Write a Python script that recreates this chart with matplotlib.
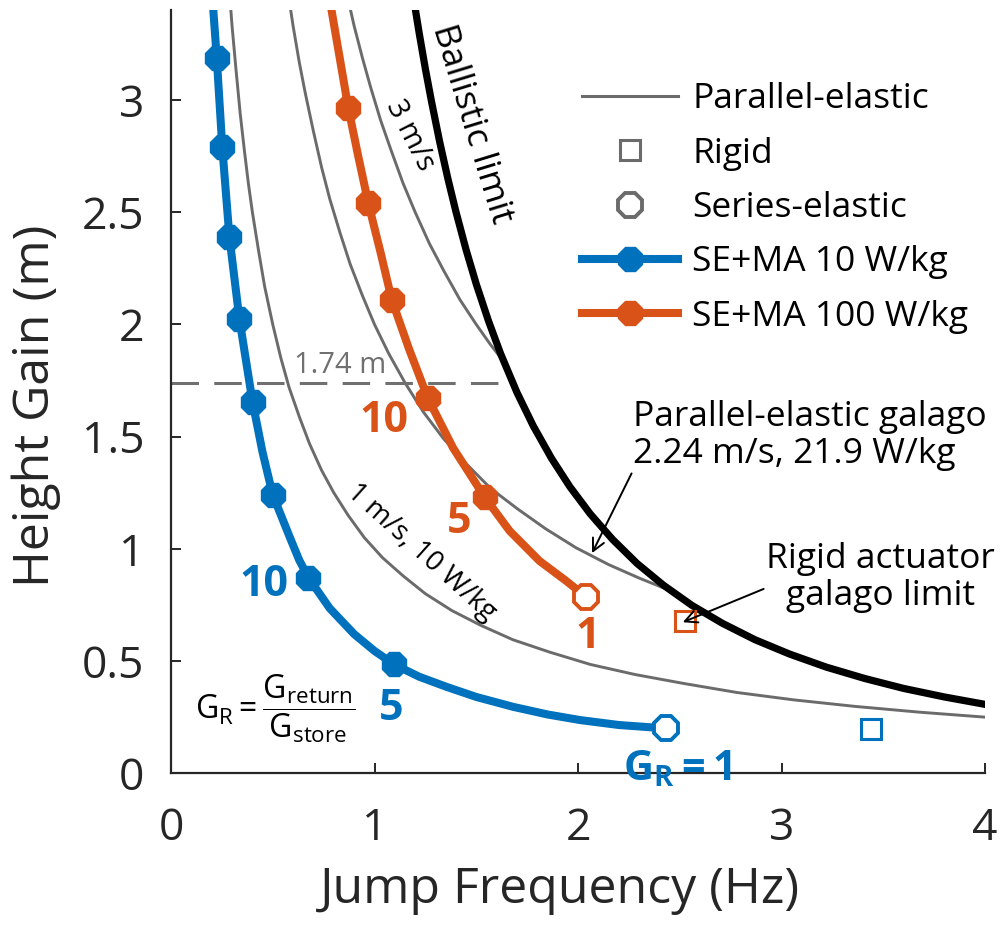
import matplotlib
matplotlib.use("Agg")
import matplotlib.pyplot as plt
from matplotlib.lines import Line2D

plt.rcParams['font.family'] = ['Open Sans', 'DejaVu Sans']
plt.rcParams['mathtext.fontset'] = 'custom'
plt.rcParams['mathtext.rm'] = 'Open Sans'
plt.rcParams['mathtext.it'] = 'Open Sans:italic'
plt.rcParams['mathtext.bf'] = 'Open Sans:bold'

BLUE = '#0072BD'
ORANGE = '#D95319'
GREY = '#6b6b6b'
INK = '#262626'

# ballistic limit
f_ballistic = [1.19, 1.22, 1.25, 1.28, 1.32, 1.36, 1.40, 1.45, 1.50, 1.56, 1.62, 1.70,
               1.78, 1.87, 1.96, 2.06, 2.17, 2.29, 2.42, 2.56, 2.71, 2.87, 3.04,
               3.22, 3.41, 3.60, 3.80, 4.00]
h_ballistic = [3.464, 3.296, 3.139, 2.994, 2.815, 2.652, 2.503, 2.333, 2.180, 2.016,
               1.869, 1.697, 1.548, 1.403, 1.277, 1.156, 1.042, 0.935, 0.838, 0.748,
               0.668, 0.595, 0.531, 0.473, 0.422, 0.378, 0.340, 0.307]

# parallel-elastic curves
f_pe_1 = [0.29, 0.30, 0.32, 0.34, 0.36, 0.38, 0.40, 0.43, 0.46, 0.50, 0.54, 0.58,
          0.63, 0.68, 0.74, 0.80, 0.87, 0.95, 1.04, 1.14, 1.25, 1.38, 1.52, 1.68,
          1.86, 2.06, 2.28, 2.52, 2.78, 3.06, 3.36, 3.68, 4.00]
h_pe_1 = [3.45, 3.33, 3.13, 2.94, 2.78, 2.63, 2.50, 2.33, 2.17, 2.00, 1.85, 1.72,
          1.59, 1.47, 1.35, 1.25, 1.15, 1.05, 0.96, 0.88, 0.80, 0.725, 0.66, 0.595,
          0.54, 0.485, 0.44, 0.40, 0.36, 0.327, 0.298, 0.272, 0.25]
f_pe_galago = [0.58, 0.60, 0.63, 0.66, 0.70, 0.74, 0.78, 0.83, 0.88, 0.94, 1.00,
               1.07, 1.15, 1.24, 1.34, 1.45, 1.57, 1.70, 1.84, 1.99, 2.15, 2.30, 2.45]
h_pe_galago = [3.45, 3.33, 3.17, 3.03, 2.86, 2.70, 2.56, 2.41, 2.27, 2.13, 2.00,
               1.87, 1.74, 1.61, 1.49, 1.38, 1.27, 1.18, 1.09, 1.005, 0.93, 0.87, 0.815]
f_pe_3 = [0.87, 0.90, 0.94, 0.98, 1.03, 1.08, 1.14, 1.20, 1.27, 1.34, 1.42, 1.50,
          1.57, 1.635]
h_pe_3 = [3.45, 3.33, 3.19, 3.06, 2.91, 2.78, 2.63, 2.50, 2.36, 2.24, 2.11, 2.00,
          1.91, 1.835]

# series-elastic + muscle actuator, 10 W/kg
f_se10 = [0.200, 0.225, 0.252, 0.287, 0.336, 0.401, 0.45, 0.50, 0.585, 0.63, 0.675,
          0.78, 0.90, 1.00, 1.096, 1.22, 1.354, 1.50, 1.681, 1.85, 2.01, 2.20, 2.43]
h_se10 = [3.50, 3.186, 2.79, 2.39, 2.025, 1.653, 1.43, 1.241, 1.049, 0.95, 0.872,
          0.735, 0.62, 0.545, 0.485, 0.43, 0.385, 0.34, 0.296, 0.262, 0.237, 0.215,
          0.200]
f_se10_pts = [0.225, 0.252, 0.287, 0.336, 0.401, 0.50, 0.675, 1.096]
h_se10_pts = [3.186, 2.79, 2.39, 2.025, 1.653, 1.241, 0.872, 0.485]

# series-elastic + muscle actuator, 100 W/kg
f_se100 = [0.77, 0.871, 0.92, 0.970, 1.03, 1.085, 1.17, 1.262, 1.386, 1.541, 1.664,
           1.811, 1.942, 2.04]
h_se100 = [3.50, 2.966, 2.75, 2.539, 2.32, 2.11, 1.89, 1.672, 1.45, 1.231, 1.080,
           0.946, 0.857, 0.786]
f_se100_pts = [0.871, 0.970, 1.085, 1.262, 1.541]
h_se100_pts = [2.966, 2.539, 2.11, 1.672, 1.231]

# G_R = 1 end points (series-elastic only) and rigid actuator points
f_se_end = [2.43, 2.04]
h_se_end = [0.200, 0.786]
f_rigid = [3.438, 2.526]
h_rigid = [0.196, 0.679]

h_galago = 1.74

fig = plt.figure(figsize=(10, 9.35), dpi=100)
ax = fig.add_axes([0.171, 0.173, 0.814, 0.816])

ax.plot(f_pe_1, h_pe_1, color=GREY, lw=2.1)
ax.plot(f_pe_galago, h_pe_galago, color=GREY, lw=2.1)
ax.plot(f_pe_3, h_pe_3, color=GREY, lw=2.1)
ax.plot([0, 1.68], [h_galago, h_galago], color='#707070', lw=2.2, dashes=(9, 5))
ax.plot(f_ballistic, h_ballistic, color='k', lw=5.2)

ax.plot(f_se10, h_se10, color=BLUE, lw=5.8, solid_capstyle='butt')
ax.plot(f_se10_pts, h_se10_pts, ls='none', marker='8', ms=18, color=BLUE)
ax.plot(f_se100, h_se100, color=ORANGE, lw=5.8, solid_capstyle='butt')
ax.plot(f_se100_pts, h_se100_pts, ls='none', marker='8', ms=18, color=ORANGE)

for f, h, c in zip(f_se_end, h_se_end, [BLUE, ORANGE]):
    ax.plot(f, h, ls='none', marker='8', ms=18, mfc='white', mec=c, mew=2.8)
for f, h, c in zip(f_rigid, h_rigid, [BLUE, ORANGE]):
    ax.plot(f, h, ls='none', marker='s', ms=14, mfc='none', mec=c, mew=2.2)

ax.set_xlim(0, 4)
ax.set_ylim(0, 3.4)
ax.set_xticks([0, 1, 2, 3, 4])
ax.set_yticks([0, 0.5, 1, 1.5, 2, 2.5, 3])
ax.set_yticklabels(['0', '0.5', '1', '1.5', '2', '2.5', '3'])
for s in ['top', 'right']:
    ax.spines[s].set_visible(False)
for s in ['left', 'bottom']:
    ax.spines[s].set_color(INK)
    ax.spines[s].set_linewidth(1.6)
ax.tick_params(direction='in', length=7, width=1.4, colors=INK, labelsize=32)
ax.tick_params(axis='x', pad=24)
ax.tick_params(axis='y', pad=19)
ax.set_xlabel('Jump Frequency (Hz)', fontsize=36, color=INK, va='center')
ax.set_ylabel('Height Gain (m)', fontsize=36, color=INK, va='center')
ax.xaxis.set_label_coords(0.478, -0.153)
ax.yaxis.set_label_coords(-0.166, 0.482)

# curve labels
ax.text(1.48, 2.893, 'Ballistic limit', fontsize=25.5, rotation=-73,
        ha='center', va='center')
ax.text(1.176, 2.844, '3 m/s', fontsize=21, rotation=-63, ha='center', va='center')
ax.text(1.231, 0.986, '1 m/s, 10 W/kg', fontsize=20, rotation=-42,
        ha='center', va='center')
ax.text(0.831, 1.819, '1.74 m', fontsize=21, color='#707070', ha='center', va='center')

# G_R labels
ax.text(1.047, 1.573, '10', fontsize=31, fontweight='bold', color=ORANGE,
        ha='center', va='center')
ax.text(1.416, 1.124, '5', fontsize=31, fontweight='bold', color=ORANGE,
        ha='center', va='center')
ax.text(2.049, 0.608, '1', fontsize=31, fontweight='bold', color=ORANGE,
        ha='center', va='center')
ax.text(0.459, 0.839, '10', fontsize=31, fontweight='bold', color=BLUE,
        ha='center', va='center')
ax.text(1.082, 0.290, '5', fontsize=31, fontweight='bold', color=BLUE,
        ha='center', va='center')
ax.text(2.221, -0.03, r'$\mathbf{G_R{=}1}$', fontsize=30, color=BLUE,
        ha='left', va='baseline', clip_on=False)
ax.text(0.513, 0.290, r'$\mathrm{G_R} = \dfrac{\mathrm{G_{return}}}{\mathrm{G_{store}}}$',
        fontsize=23, ha='center', va='center')

# galago annotations
ax.annotate('Parallel-elastic galago\n2.24 m/s, 21.9 W/kg', xy=(2.069, 0.981),
            xytext=(2.27, 1.507), fontsize=25.5, ha='left', va='center',
            linespacing=1.12,
            arrowprops=dict(arrowstyle='->', color='k', lw=1.4,
                            mutation_scale=22, shrinkA=0, shrinkB=0,
                            relpos=(0, 0)))
ax.annotate('Rigid actuator\ngalago limit', xy=(2.515, 0.673),
            xytext=(3.488, 0.874), fontsize=25.5, ha='center', va='center',
            linespacing=1.12,
            arrowprops=dict(arrowstyle='->', color='k', lw=1.4,
                            mutation_scale=22, shrinkA=0, shrinkB=0,
                            relpos=(0, 0.35)))

handles = [
    Line2D([], [], color=GREY, lw=2.2),
    Line2D([], [], ls='none', marker='s', ms=14, mfc='none', mec=GREY, mew=2.2),
    Line2D([], [], ls='none', marker='8', ms=18, mfc='none', mec=GREY, mew=2.8),
    Line2D([], [], color=BLUE, lw=5.8, marker='8', ms=18),
    Line2D([], [], color=ORANGE, lw=5.8, marker='8', ms=18),
]
labels = ['Parallel-elastic', 'Rigid', 'Series-elastic', 'SE+MA 10 W/kg',
          'SE+MA 100 W/kg']
ax.legend(handles, labels, loc='upper left', bbox_to_anchor=(0.582, 0.912),
          bbox_transform=fig.transFigure, frameon=False, fontsize=25.5,
          handlelength=2.7, handletextpad=0.42, labelspacing=0.575, borderpad=0,
          borderaxespad=0)

fig.savefig('out.png', dpi=100)
